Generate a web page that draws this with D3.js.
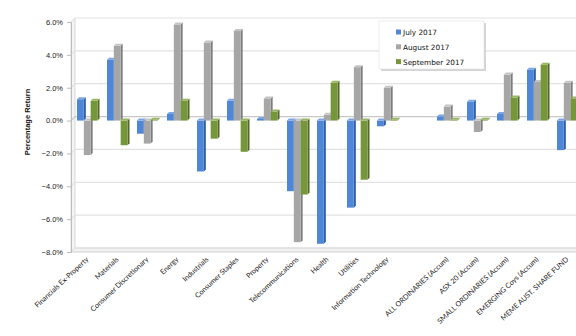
<!DOCTYPE html>
<html>
<head>
<meta charset="utf-8">
<script src="https://cdn.jsdelivr.net/npm/d3@7"></script>
<style>
  body { margin: 0; background: #fff; }
  svg { display: block; }
</style>
</head>
<body>
<svg width="576" height="336"></svg>
<script>
// categories (the blank one is the gap between sectors and indices)
var categories = ['Financials Ex-Property', 'Materials', 'Consumer Discretionary', 'Energy',
  'Industrials', 'Consumer Staples', 'Property', 'Telecommunications', 'Health', 'Utilities',
  'Information Technology', ' ', 'ALL ORDINARIES (Accum)', 'ASX 20 (Accum)',
  'SMALL ORDINARIES (Accum)', 'EMERGING Coys (Accum)', 'MEME AUST. SHARE FUND'];

var seriesNames = ['July 2017', 'August 2017', 'September 2017'];

var july   = [1.3, 3.7, -0.8, 0.4, -3.1, 1.2, 0.1, -4.3, -7.5, -5.3, -0.35, null, 0.25, 1.15, 0.4, 3.1, -1.8];
var august = [-2.1, 4.55, -1.4, 5.85, 4.75, 5.45, 1.35, -7.4, 0.35, 3.25, 2.0, null, 0.85, -0.7, 2.8, 2.35, 2.3];
var sept   = [1.2, -1.5, 0.05, 1.2, -1.1, -1.9, 0.55, -4.5, 2.3, -3.6, 0.05, null, 0.05, 0.05, 1.4, 3.4, 1.35];

var yTicks = [-8, -6, -4, -2, 0, 2, 4, 6];

var colors = ['#4f87d6', '#a6a6a6', '#76963a'];
var sideColors = ['#2f5fa6', '#7d7d7d', '#52692a'];
var capColors = ['#7aa6e6', '#c4c4c4', '#97b45e'];

var svg = d3.select('svg');

var y = d3.scaleLinear().domain([-8, 6]).range([252, 22]);
var x0 = d3.scaleBand().domain(categories).range([73, 583]);
var x1 = d3.scaleBand().domain(seriesNames).range([4, 24.5]);

var dx = 4, dy = -4; // depth of the 3d back wall

// left wall and floor
svg.append('path')
  .attr('d', 'M71,' + y(6) + 'L' + (71 + dx) + ',' + (y(6) + dy) + 'L' + (71 + dx) + ',' + (y(-8) + dy) + 'L71,' + y(-8) + 'Z')
  .attr('fill', '#f4f4f4').attr('stroke', '#d0d0d0').attr('stroke-width', 0.8);
svg.append('path')
  .attr('d', 'M71,' + y(-8) + 'L' + (71 + dx) + ',' + (y(-8) + dy) + 'L600,' + (y(-8) + dy) + 'L600,' + y(-8) + 'Z')
  .attr('fill', '#f2f2f2').attr('stroke', '#c8c8c8').attr('stroke-width', 0.8);

// gridlines on the back wall
svg.selectAll('.grid')
  .data(yTicks)
  .enter()
  .append('path')
    .attr('class', 'grid')
    .attr('d', function(t){
      return 'M71,' + y(t) + 'L' + (71 + dx) + ',' + (y(t) + dy) + 'L600,' + (y(t) + dy);
    })
    .attr('fill', 'none')
    .attr('stroke', function(t){ return t === 0 ? '#c8c8c8' : '#e2e2e2'; })
    .attr('stroke-width', 1.2);

// y axis
var yAxis = d3.axisLeft(y)
  .tickValues(yTicks)
  .tickSize(4)
  .tickPadding(4)
  .tickFormat(function(d){ return d3.format('.1f')(d) + '%'; });

var gy = svg.append('g').attr('transform', 'translate(71,0)').call(yAxis);
gy.select('.domain').attr('stroke', '#bdbdbd');
gy.selectAll('.tick line').attr('stroke', '#bdbdbd');
gy.selectAll('text')
  .attr('font-family', 'Liberation Sans, Arial, sans-serif')
  .attr('font-size', 7.5)
  .attr('fill', '#222');

// y axis title
svg.append('text')
  .attr('transform', 'translate(30,122) rotate(-90)')
  .attr('text-anchor', 'middle')
  .attr('font-family', 'Liberation Sans, Arial, sans-serif')
  .attr('font-size', 7.5)
  .attr('font-weight', 'bold')
  .attr('fill', '#111')
  .text('Percentage Return');

// bars
var barData = [];
categories.forEach(function(c, i){
  [july, august, sept].forEach(function(s, j){
    if (s[i] === null) return;
    barData.push({ cat: c, series: seriesNames[j], idx: j, value: s[i] });
  });
});

var bw = x1.bandwidth();
var sd = 2; // side depth

var bars = svg.selectAll('.bar')
  .data(barData)
  .enter()
  .append('g')
    .attr('class', 'bar');

bars.append('path')
  .attr('d', function(d){
    var xr = x0(d.cat) + x1(d.series) + bw;
    var top = Math.min(y(d.value), y(0)), bot = Math.max(y(d.value), y(0));
    return 'M' + xr + ',' + top + 'L' + (xr + sd) + ',' + (top - sd) + 'L' + (xr + sd) + ',' + (bot - sd) + 'L' + xr + ',' + bot + 'Z';
  })
  .attr('fill', function(d){ return sideColors[d.idx]; });

bars.append('rect')
  .attr('x', function(d){ return x0(d.cat) + x1(d.series); })
  .attr('y', function(d){ return Math.min(y(d.value), y(0)); })
  .attr('width', bw)
  .attr('height', function(d){ return Math.abs(y(d.value) - y(0)); })
  .attr('fill', function(d){ return colors[d.idx]; });

bars.append('path')
  .attr('d', function(d){
    var xl = x0(d.cat) + x1(d.series);
    var top = Math.min(y(d.value), y(0));
    return 'M' + xl + ',' + top + 'L' + (xl + sd) + ',' + (top - sd) + 'L' + (xl + bw + sd) + ',' + (top - sd) + 'L' + (xl + bw) + ',' + top + 'Z';
  })
  .attr('fill', function(d){ return capColors[d.idx]; });

// category labels
svg.selectAll('.xlabel')
  .data(categories.filter(function(c){ return c.trim() !== ''; }))
  .enter()
  .append('text')
    .attr('class', 'xlabel')
    .attr('transform', function(c){
      return 'translate(' + (x0(c) + x0.bandwidth() / 2 + 1) + ',260) rotate(-43)';
    })
    .attr('text-anchor', 'end')
    .attr('font-family', 'Lato, Liberation Sans, sans-serif')
    .attr('font-size', 7.2)
    .attr('fill', '#222')
    .text(function(c){ return c; });

// legend
var legend = svg.append('g').attr('transform', 'translate(379,21)');
legend.append('rect')
  .attr('x', 2).attr('y', 2).attr('width', 105).attr('height', 48)
  .attr('fill', '#d4d4d4');
legend.append('rect')
  .attr('width', 105).attr('height', 48)
  .attr('fill', '#fff').attr('stroke', '#e0e0e0').attr('stroke-width', 0.6);

var items = legend.selectAll('.item')
  .data(seriesNames)
  .enter()
  .append('g')
    .attr('class', 'item')
    .attr('transform', function(d, i){ return 'translate(17,' + (11 + i * 14.8) + ')'; });

items.append('rect')
  .attr('y', -2.5).attr('width', 5).attr('height', 5)
  .attr('fill', function(d, i){ return colors[i]; });

items.append('text')
  .attr('x', 7)
  .attr('y', 3)
  .attr('font-family', 'DejaVu Sans, Verdana, sans-serif')
  .attr('font-size', 7.3)
  .attr('fill', '#111')
  .text(function(d){ return d; });
</script>
</body>
</html>
